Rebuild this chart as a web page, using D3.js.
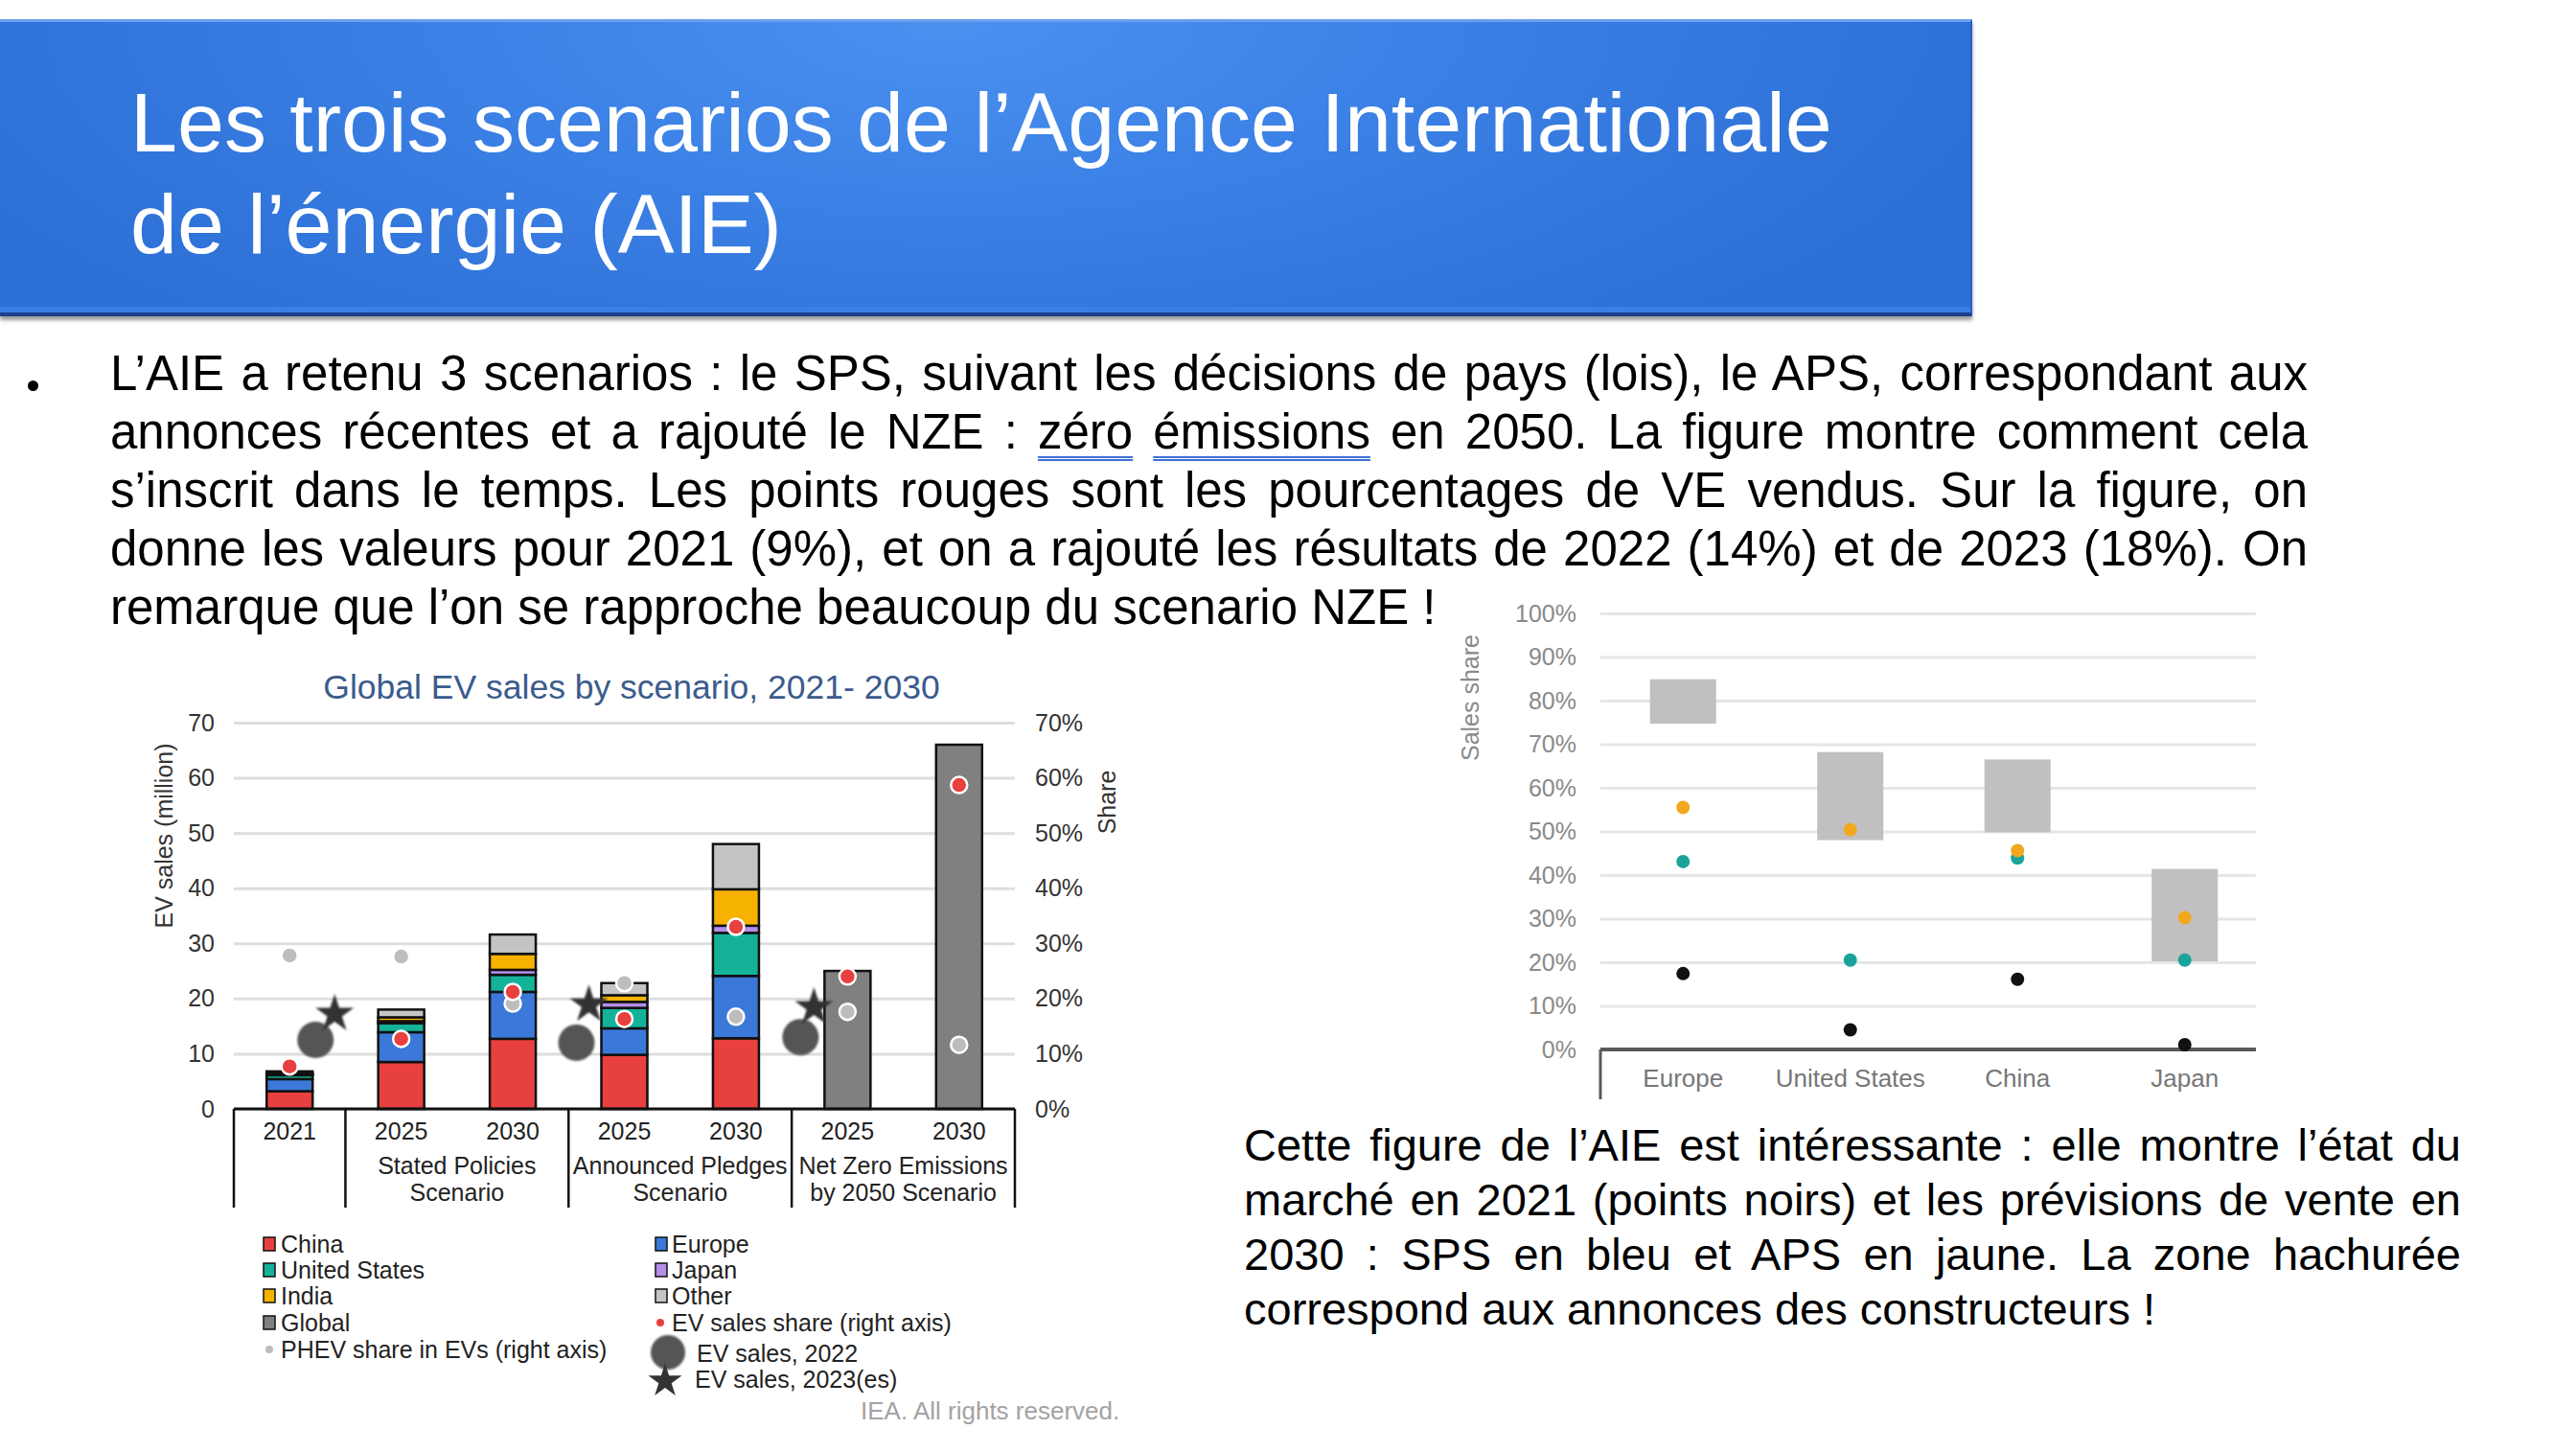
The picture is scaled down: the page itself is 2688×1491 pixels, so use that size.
<!DOCTYPE html>
<html><head><meta charset="utf-8">
<script src="https://cdn.jsdelivr.net/npm/d3@7"></script>
<style>
html,body{margin:0;padding:0;background:#fff;width:2688px;height:1491px;overflow:hidden;font-family:"Liberation Sans",Arial,sans-serif;}
#header{position:absolute;left:0;top:20px;width:2056px;height:303px;
 background:radial-gradient(ellipse 55% 140% at 48% 0%, #4b91f0 0%, #3d82e6 40%, #2c6fd6 100%);
 border-top:3px solid #6d9ff0;border-bottom:4px solid #1d3f8c;border-right:2px solid #2a5fc0;
 box-shadow:0 4px 4px rgba(0,0,0,0.4), inset 0 -6px 0 #3b7fe6;}
#title{position:absolute;left:136px;top:75px;font-size:88px;line-height:106px;color:#fff;white-space:nowrap;}
#bullet{position:absolute;left:29px;top:397px;width:11px;height:11px;border-radius:50%;background:#000;}
#para{position:absolute;left:115px;top:359px;width:2293px;font-size:51px;line-height:61px;color:#000;}
#para div{text-align:justify;text-align-last:justify;white-space:nowrap;}
#para div.last{text-align-last:left;}
.ul{text-decoration-line:underline;text-decoration-style:double;text-decoration-color:#3d6fd6;text-decoration-thickness:2px;text-underline-offset:8px;}
#para2{position:absolute;left:1298px;top:1166px;width:1270px;font-size:47px;line-height:57px;color:#000;}
#para2 div{text-align:justify;text-align-last:justify;white-space:nowrap;}
#para2 div.last{text-align-last:left;}
svg{position:absolute;left:0;top:0;}
</style></head>
<body>
<div id="chart"></div>
<div id="header"></div>
<div id="title">Les trois scenarios de l’Agence Internationale<br>de l’énergie (AIE)</div>
<div id="bullet"></div>
<div id="para">
<div>L’AIE a retenu 3 scenarios : le SPS, suivant les décisions de pays (lois), le APS, correspondant aux</div>
<div>annonces récentes et a rajouté le NZE : <span class="ul">zéro</span> <span class="ul">émissions</span> en 2050. La figure montre comment cela</div>
<div>s’inscrit dans le temps. Les points rouges sont les pourcentages de VE vendus. Sur la figure, on</div>
<div>donne les valeurs pour 2021 (9%), et on a rajouté les résultats de 2022 (14%) et de 2023 (18%). On</div>
<div class="last">remarque que l’on se rapproche beaucoup du scenario NZE !</div>
</div>
<div id="para2">
<div>Cette figure de l’AIE est intéressante : elle montre l’état du</div>
<div>marché en 2021 (points noirs) et les prévisions de vente en</div>
<div>2030 : SPS en bleu et APS en jaune. La zone hachurée</div>
<div class="last">correspond aux annonces des constructeurs !</div>
</div>
<script>
// ---------------- DATA : left chart (million vehicles, % share) ----------------
const categories = ["2021","SPS 2025","SPS 2030","APS 2025","APS 2030","NZE 2025","NZE 2030"];
const yearLabels = ["2021","2025","2030","2025","2030","2025","2030"];
const scenarioGroups = [["Stated Policies","Scenario"],["Announced Pledges","Scenario"],["Net Zero Emissions","by 2050 Scenario"]];
const chinaSales  = [3.2, 8.5, 12.7, 9.8, 12.8, 0, 0];
const europeSales = [2.2, 5.4, 8.5, 4.8, 11.3, 0, 0];
const usSales     = [0.7, 1.6, 3.1, 3.7, 7.8, 0, 0];
const japanSales  = [0.2, 0.4, 0.9, 1.1, 1.3, 0, 0];
const indiaSales  = [0.1, 0.7, 2.9, 1.2, 6.6, 0, 0];
const otherSales  = [0.4, 1.4, 3.5, 2.2, 8.2, 0, 0];
const globalSales = [0, 0, 0, 0, 0, 25.0, 66.0];
const evShare     = [7.7, 12.7, 21.2, 16.3, 33.0, 24.0, 58.7];
const phevShare   = [27.8, 27.6, 19.1, 22.8, 16.7, 17.6, 11.6];
const ev2022      = [12.5, 12.0, 13.0];
const ev2023      = [17.2, 18.9, 18.4];
const leftTicks   = [0,10,20,30,40,50,60,70];
// ---------------- DATA : right chart (sales share 2030) ----------------
const regions      = ["Europe","United States","China","Japan"];
const oemLow       = [0.747, 0.480, 0.498, 0.202];
const oemHigh      = [0.849, 0.682, 0.665, 0.414];
const apsShare     = [0.555, 0.504, 0.456, 0.302];
const spsShare     = [0.431, 0.205, 0.439, 0.205];
const market2021   = [0.174, 0.045, 0.161, 0.011];
const rightTicks   = [0,0.1,0.2,0.3,0.4,0.5,0.6,0.7,0.8,0.9,1.0];

// ---------------- LAYOUT ----------------
const W=2688,H=1491;
const FONT="'Liberation Sans',Arial,sans-serif";
const svg=d3.select("#chart").append("svg").attr("width",W).attr("height",H).style("font-family",FONT);
const defs=svg.append("defs");
defs.append("filter").attr("id","soft").append("feGaussianBlur").attr("stdDeviation",1.3);

const colors={China:"#e8403f",Europe:"#3b78d8","United States":"#15b29a",Japan:"#b48fe8",India:"#f5b300",Other:"#c4c4c4",Global:"#808080"};
const keys=["China","Europe","United States","Japan","India","Other","Global"];
const series0=[chinaSales,europeSales,usSales,japanSales,indiaSales,otherSales,globalSales];

const xL=d3.scaleBand().domain(categories).range([244,1059]);
const yL=d3.scaleLinear().domain([0,70]).range([1157,754]);
const barW=48;
const gL=svg.append("g");

// title
gL.append("text").attr("x",659).attr("y",729).attr("text-anchor","middle")
  .attr("font-size",35.5).attr("fill","#3b5b8c").text("Global EV sales by scenario, 2021- 2030");

// gridlines
const grid=gL.append("g").attr("transform","translate(244,0)")
  .call(d3.axisLeft(yL).tickValues(leftTicks).tickSize(-815).tickFormat(""));
grid.select(".domain").remove();
grid.selectAll("line").attr("stroke","#dedede").attr("stroke-width",3);

// left ticks
const axl=gL.append("g").attr("transform","translate(224,0)")
  .call(d3.axisLeft(yL).tickValues(leftTicks).tickSize(0).tickPadding(0));
axl.select(".domain").remove();
axl.selectAll("text").attr("font-size",25).attr("fill","#333").attr("font-family",FONT);
// right ticks
const axr=gL.append("g").attr("transform","translate(1080,0)")
  .call(d3.axisRight(yL).tickValues(leftTicks).tickSize(0).tickPadding(0).tickFormat(d=>d+"%"));
axr.select(".domain").remove();
axr.selectAll("text").attr("font-size",25).attr("fill","#333").attr("font-family",FONT);

gL.append("text").attr("transform","translate(180,872) rotate(-90)").attr("text-anchor","middle")
  .attr("font-size",25).attr("fill","#333").text("EV sales (million)");
gL.append("text").attr("transform","translate(1164,837) rotate(-90)").attr("text-anchor","middle")
  .attr("font-size",25).attr("fill","#333").text("Share");

// stacked bars
const rows=categories.map((c,i)=>{const o={cat:c};keys.forEach((k,j)=>o[k]=series0[j][i]);return o;});
const stacked=d3.stack().keys(keys)(rows);
const bars=gL.append("g");
stacked.forEach(s=>{
  bars.selectAll(null).data(s.filter(d=>d[1]-d[0]>0)).join("rect")
    .attr("x",d=>xL(d.data.cat)+(xL.bandwidth()-barW)/2)
    .attr("width",barW)
    .attr("y",d=>yL(d[1]))
    .attr("height",d=>yL(d[0])-yL(d[1]))
    .attr("fill",colors[s.key]).attr("stroke","#111").attr("stroke-width",2.5);
});

// share dots
const cx=c=>xL(c)+xL.bandwidth()/2;
gL.append("g").selectAll("circle").data(categories).join("circle")
  .attr("cx",d=>cx(d)).attr("cy",(d,i)=>yL(phevShare[i])).attr("r",8.5)
  .attr("fill","#bdbdbd").attr("stroke","#fff").attr("stroke-width",2.5);
gL.append("g").selectAll("circle").data(categories).join("circle")
  .attr("cx",d=>cx(d)).attr("cy",(d,i)=>yL(evShare[i])).attr("r",8.5)
  .attr("fill","#e8403f").attr("stroke","#fff").attr("stroke-width",2.5);

// x axis table
const xAxisG=gL.append("g");
xAxisG.append("line").attr("x1",xL.range()[0]).attr("x2",xL.range()[1]).attr("y1",yL(0)).attr("y2",yL(0))
  .attr("stroke","#111").attr("stroke-width",3);
const seps=[categories[0],categories[1],categories[3],categories[5]].map(c=>xL(c)).concat([xL.range()[1]]);
xAxisG.selectAll("line.sep").data(seps).join("line").attr("class","sep")
  .attr("x1",d=>d).attr("x2",d=>d).attr("y1",yL(0)).attr("y2",1260).attr("stroke","#111").attr("stroke-width",2.5);
xAxisG.selectAll("text.yr").data(categories).join("text").attr("class","yr")
  .attr("x",d=>cx(d)).attr("y",1189).attr("text-anchor","middle").attr("font-size",25).attr("fill","#222")
  .text((d,i)=>yearLabels[i]);
const groupCenters=[[1,2],[3,4],[5,6]].map(p=>(cx(categories[p[0]])+cx(categories[p[1]]))/2);
scenarioGroups.forEach((g,i)=>{
  g.forEach((t,j)=>xAxisG.append("text").attr("x",groupCenters[i]).attr("y",1225+j*28)
    .attr("text-anchor","middle").attr("font-size",25).attr("fill","#222").text(t));
});

// EV sales 2022 / 2023 markers
const markerCats=["2021","APS 2025","NZE 2025"];
const circDx=[27,-50,-49], starDx=[47,-37,-35];
const starPath=d3.symbol(d3.symbolStar).size(495)();
markerCats.forEach((c,i)=>{
  gL.append("circle").attr("cx",cx(c)+circDx[i]).attr("cy",yL(ev2022[i])).attr("r",19)
    .attr("fill","#555").attr("filter","url(#soft)");
  gL.append("path").attr("d",starPath).attr("transform",`translate(${cx(c)+starDx[i]},${yL(ev2023[i])})`)
    .attr("fill","#333").attr("filter","url(#soft)");
});

// legend
const legend=svg.append("g").attr("font-size",25).attr("fill","#222");
const leg1=[["China",colors.China],["United States",colors["United States"]],["India",colors.India],["Global",colors.Global]];
const leg2=[["Europe",colors.Europe],["Japan",colors.Japan],["Other",colors.Other]];
const rowY=[1298,1325,1352,1380,1408];
leg1.forEach((d,i)=>{
  legend.append("rect").attr("x",275).attr("y",rowY[i]-7).attr("width",12).attr("height",14).attr("fill",d[1]).attr("stroke","#111").attr("stroke-width",1.5);
  legend.append("text").attr("x",293).attr("y",rowY[i]+9).text(d[0]);
});
legend.append("circle").attr("cx",281).attr("cy",rowY[4]).attr("r",4).attr("fill","#bdbdbd");
legend.append("text").attr("x",293).attr("y",rowY[4]+9).text("PHEV share in EVs (right axis)");
leg2.forEach((d,i)=>{
  legend.append("rect").attr("x",684).attr("y",rowY[i]-7).attr("width",12).attr("height",14).attr("fill",d[1]).attr("stroke","#111").attr("stroke-width",1.5);
  legend.append("text").attr("x",701).attr("y",rowY[i]+9).text(d[0]);
});
legend.append("circle").attr("cx",689).attr("cy",rowY[3]).attr("r",4).attr("fill","#e8403f");
legend.append("text").attr("x",701).attr("y",rowY[3]+9).text("EV sales share (right axis)");
legend.append("circle").attr("cx",697).attr("cy",1411).attr("r",18).attr("fill","#555").attr("filter","url(#soft)");
legend.append("text").attr("x",727).attr("y",1421).text("EV sales, 2022");
legend.append("path").attr("d",d3.symbol(d3.symbolStar).size(380)()).attr("transform","translate(694,1441)").attr("fill","#333");
legend.append("text").attr("x",725).attr("y",1448).text("EV sales, 2023(es)");
svg.append("text").attr("x",898).attr("y",1481).attr("font-size",26).attr("fill","#a3a3a3").text("IEA. All rights reserved.");

// ---------------- right chart ----------------
const xR=d3.scaleBand().domain(regions).range([1669,2367]);
const yR=d3.scaleLinear().domain([0,1]).range([1095,640]);
const gR=svg.append("g");
const gridR=gR.append("g").attr("transform","translate(1670,0)")
  .call(d3.axisLeft(yR).tickValues(rightTicks).tickSize(-684).tickFormat(""));
gridR.select(".domain").remove();
gridR.selectAll("line").attr("stroke","#e6e6e6").attr("stroke-width",3);
const ayR=gR.append("g").attr("transform","translate(1645,0)")
  .call(d3.axisLeft(yR).tickValues(rightTicks).tickSize(0).tickPadding(0).tickFormat(d3.format(".0%")));
ayR.select(".domain").remove();
ayR.selectAll("text").attr("font-size",25).attr("fill","#8a8a8a").attr("font-family",FONT);
gR.append("text").attr("transform","translate(1543,728) rotate(-90)").attr("text-anchor","middle")
  .attr("font-size",25).attr("fill","#8a8a8a").text("Sales share");
const boxW=69;
const rcx=r=>xR(r)+xR.bandwidth()/2;
gR.selectAll("rect.oem").data(regions).join("rect").attr("class","oem")
  .attr("x",d=>rcx(d)-boxW/2).attr("width",boxW)
  .attr("y",(d,i)=>yR(oemHigh[i])).attr("height",(d,i)=>yR(oemLow[i])-yR(oemHigh[i]))
  .attr("fill","#c0c0c0");
gR.append("line").attr("x1",1670).attr("x2",2354).attr("y1",yR(0)).attr("y2",yR(0)).attr("stroke","#595959").attr("stroke-width",4);
gR.append("line").attr("x1",1670).attr("x2",1670).attr("y1",yR(0)).attr("y2",1147).attr("stroke","#595959").attr("stroke-width",3);
const dotSets=[[market2021,"#111"],[spsShare,"#1aa39a"],[apsShare,"#f2a81c"]];
dotSets.forEach(ds=>{
  gR.append("g").selectAll("circle").data(regions).join("circle")
    .attr("cx",d=>rcx(d)).attr("cy",(d,i)=>yR(ds[0][i])).attr("r",7).attr("fill",ds[1]);
});
gR.selectAll("text.cat").data(regions).join("text").attr("class","cat")
  .attr("x",d=>rcx(d)).attr("y",1134).attr("text-anchor","middle").attr("font-size",26).attr("fill","#777").text(d=>d);
</script>
</body></html>
